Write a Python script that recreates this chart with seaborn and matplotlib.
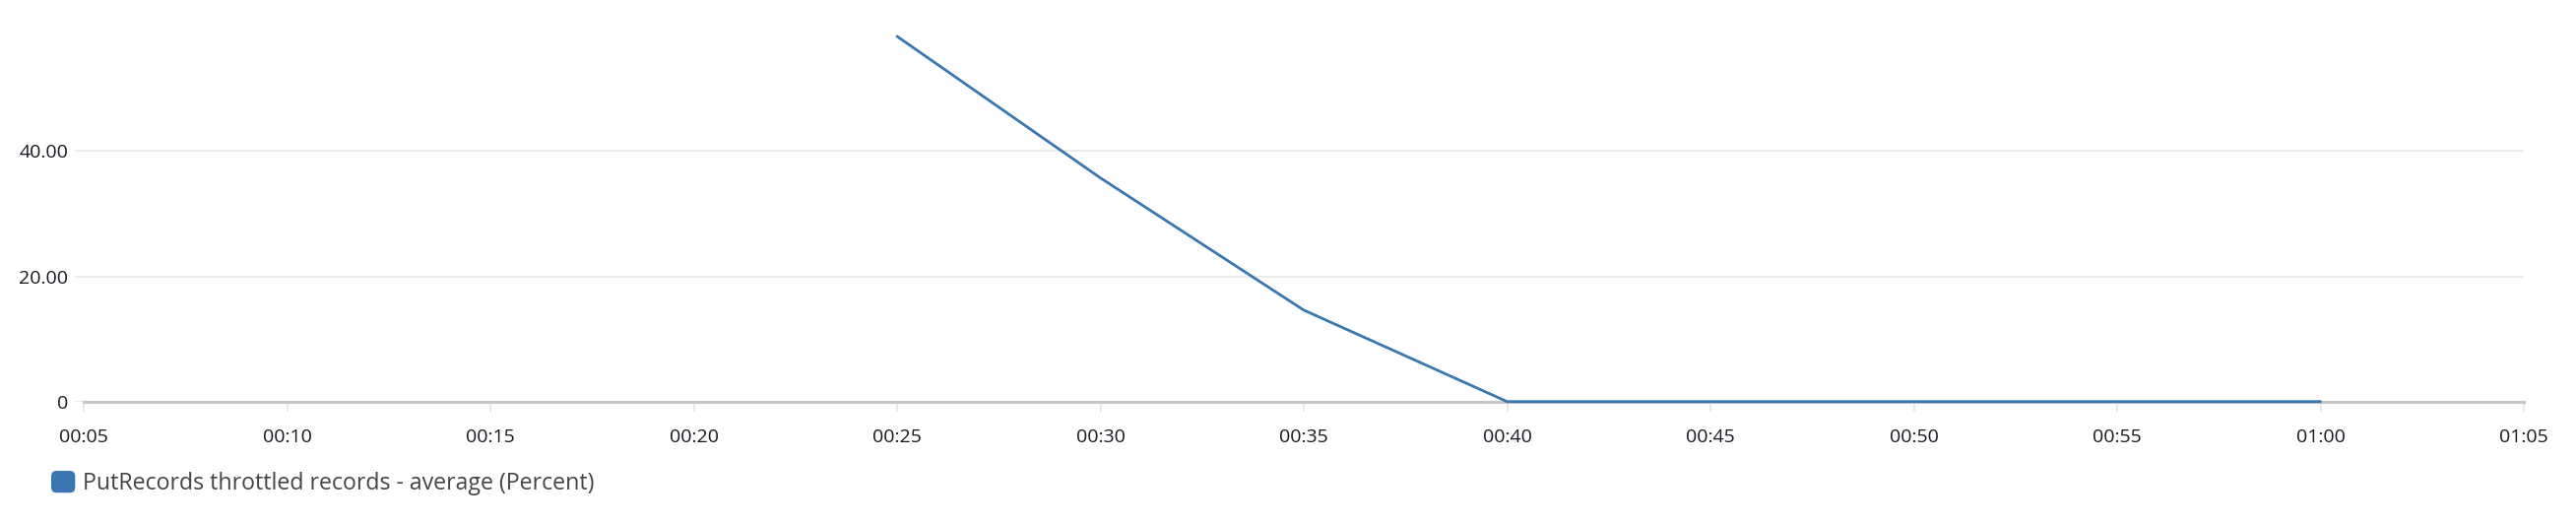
import pandas as pd
import numpy as np
import matplotlib.pyplot as plt
import matplotlib.dates as mdates
import seaborn as sns
from matplotlib.patches import FancyBboxPatch, Patch
from matplotlib.legend_handler import HandlerPatch

# Datos (promedio cada 5 minutos)
times = ["00:25", "00:30", "00:35", "00:40", "00:45", "00:50", "00:55", "01:00"]
throttled_pct = [58.3, 35.7, 14.6, 0.0, 0.0, 0.0, 0.0, 0.0]
tick_times = ["00:05", "00:10", "00:15", "00:20", "00:25", "00:30", "00:35",
              "00:40", "00:45", "00:50", "00:55", "01:00", "01:05"]
y_ticks = [0, 20, 40]
y_tick_labels = ["0", "20.00", "40.00"]
series_label = "PutRecords throttled records - average (Percent)"

line_color = "#3a76b0"

df = pd.DataFrame({
    "time": pd.to_datetime(["2024-01-01 " + t for t in times]),
    "value": throttled_pct,
})
ticks = pd.to_datetime(["2024-01-01 " + t for t in tick_times])

sns.set_theme(style="white")
plt.rcParams["font.family"] = ["Open Sans", "DejaVu Sans"]

W, H = 2616, 532
fig = plt.figure(figsize=(W / 100, H / 100), dpi=100)
ax = fig.add_axes([76 / W, (H - 407.7) / H, (2563 - 76) / W, 381.6 / H])

sns.lineplot(data=df, x="time", y="value", ax=ax, color=line_color,
             linewidth=2, zorder=4, clip_on=False, legend=False)

# Eje x: margen pequeño a la izquierda para que la rejilla asome
span = ticks[-1] - ticks[0]
pad = span * (9 / (2563 - 85))
ax.set_xlim(ticks[0] - pad, ticks[-1])
ax.set_ylim(0, 60)

ax.set_xticks(ticks)
ax.xaxis.set_major_formatter(mdates.DateFormatter("%H:%M"))
ax.set_yticks(y_ticks)
ax.set_yticklabels(y_tick_labels)

ax.tick_params(axis="x", direction="out", length=7.5, width=1.1,
               color="#e3e3e3", labelsize=14, labelcolor="#16191f", pad=12.5,
               bottom=True)
ax.tick_params(axis="y", length=0, labelsize=14, labelcolor="#16191f", pad=5)

ax.grid(axis="y", color="#ebebeb", linewidth=1.5, zorder=0)
ax.grid(axis="x", visible=False)

for side in ["top", "right", "left"]:
    ax.spines[side].set_visible(False)
ax.spines["bottom"].set_color("#c6c6c6")
ax.spines["bottom"].set_linewidth(2.2)
ax.spines["bottom"].set_bounds(mdates.date2num(ticks[0]), mdates.date2num(ticks[-1]))
ax.set_xlabel("")
ax.set_ylabel("")


# Manejador para el cuadrado redondeado de la leyenda
class RoundBoxHandler(HandlerPatch):
    def create_artists(self, legend, orig_handle, xdescent, ydescent,
                       width, height, fontsize, trans):
        box = FancyBboxPatch((-xdescent + 3, -ydescent + 3), width - 6, height - 6,
                             boxstyle="round,pad=3,rounding_size=4",
                             facecolor=orig_handle.get_facecolor(),
                             edgecolor="none", transform=trans)
        return [box]


handle = Patch(facecolor=line_color, label=series_label)
fig.legend(handles=[handle], handler_map={Patch: RoundBoxHandler()},
           loc="upper left", bbox_to_anchor=(52 / W, 1 - 478 / H),
           frameon=False, fontsize=16.7, labelcolor="#444444",
           handlelength=1.05, handleheight=1.1, handletextpad=0.35,
           borderpad=0, borderaxespad=0)

plt.savefig("out.png", dpi=100)
